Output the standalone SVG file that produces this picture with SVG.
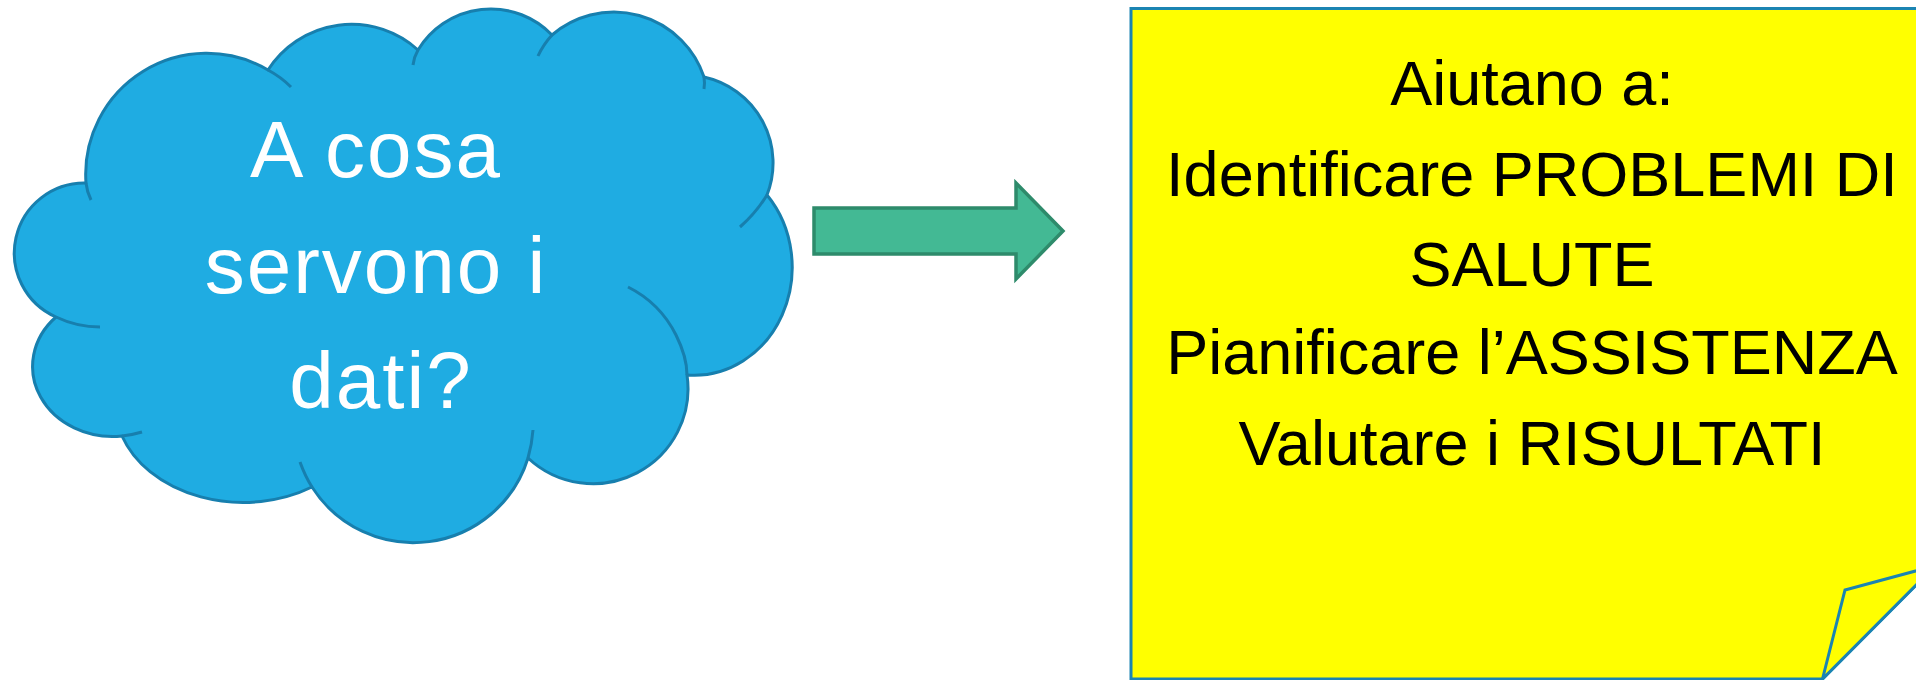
<svg xmlns="http://www.w3.org/2000/svg" width="1916" height="680" viewBox="0 0 1916 680">
<style>
.cloud{fill:#1face2;stroke:#177fae;stroke-width:3;stroke-linejoin:round}
.tail{fill:none;stroke:#177fae;stroke-width:3;stroke-linecap:butt}
.ctext{font-family:"Liberation Sans",Arial,sans-serif;font-size:80px;fill:#ffffff;text-anchor:middle;letter-spacing:2px}
.arrow{fill:#43b994;stroke:#2e8b6b;stroke-width:3.5}
.note{fill:#ffff00;stroke:#1b84b2;stroke-width:3;stroke-linejoin:miter}
.ntext{font-family:"Liberation Sans",Arial,sans-serif;font-size:63px;fill:#000000;text-anchor:middle}
</style>
<rect width="1916" height="680" fill="#ffffff"/>
<g id="cloud">
<path class="cloud" d="M 86 183 A 121 121 0 0 1 268 70 A 99 99 0 0 1 418 50 A 85 85 0 0 1 552 35 A 95 95 0 0 1 704 77 A 88 88 0 0 1 767 195 A 98 108 0 0 1 687 375 A 95 95 0 0 1 528 458 A 120 120 0 0 1 312 487 A 128 98 0 0 1 122 436 A 80 70 0 0 1 56 317 A 70 70 0 0 1 86 183 Z"/>
<path class="tail" d="M 86 183 Q 87 192 91 200"/>
<path class="tail" d="M 268 70 Q 281 77 291 87"/>
<path class="tail" d="M 418 50 Q 414 57 413 65"/>
<path class="tail" d="M 552 35 Q 543 45 538 56"/>
<path class="tail" d="M 704 77 Q 705 83 704 89"/>
<path class="tail" d="M 767 195 Q 756 213 740 227"/>
<path class="tail" d="M 628 287 Q 660 303 676 335 Q 687 357 687 375"/>
<path class="tail" d="M 533 430 Q 532 444 528 458"/>
<path class="tail" d="M 300 462 Q 305 476 312 487"/>
<path class="tail" d="M 142 432 Q 132 435 122 436"/>
<path class="tail" d="M 56 317 Q 77 327 100 327"/>
<text class="ctext" x="376" y="177">A cosa</text>
<text class="ctext" x="376" y="293">servono i</text>
<text class="ctext" x="381" y="408">dati?</text>
</g>
<g id="connectors">
<path id="arrow" class="arrow" d="M 814 208 H 1016 V 183 L 1063 231 L 1016 279 V 254 H 814 Z"/>
</g>
<g id="note">
<path class="note" d="M 1131 8.5 H 1945 V 556 L 1822.5 679 H 1131 Z"/>
<path class="note" d="M 1822.5 679 L 1845 590 L 1945 563 L 1945 556 Z"/>
<text class="ntext" x="1532" y="105">Aiutano a:</text>
<text class="ntext" x="1532" y="196">Identificare PROBLEMI DI</text>
<text class="ntext" x="1532" y="286">SALUTE</text>
<text class="ntext" x="1532" y="374">Pianificare l’ASSISTENZA</text>
<text class="ntext" x="1532" y="465">Valutare i RISULTATI</text>
</g>
</svg>
